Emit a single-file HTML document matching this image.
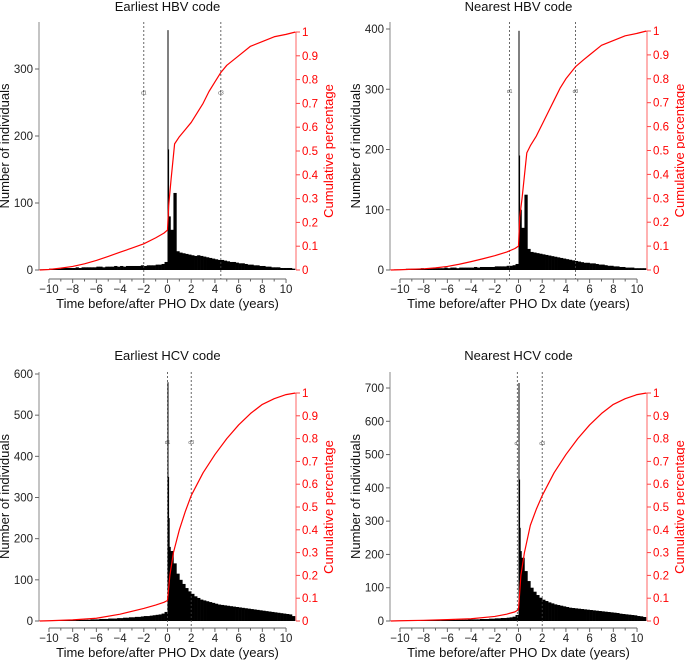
<!DOCTYPE html>
<html><head><meta charset="utf-8"><style>
body{margin:0;background:#fff}
svg{display:block;font-family:"Liberation Sans",Arial,sans-serif}
</style></head><body>
<svg id="chart" width="685" height="661" viewBox="0 0 685 661"></svg>
<script>
// ---- data ----
const panelTitles = ["Earliest HBV code","Nearest HBV code","Earliest HCV code","Nearest HCV code"];
const binStart = -10.75, binWidth = 0.25;
const histTL = [1,1,1,2,2,2,2,3,3,3,3,3,4,3,4,4,4,4,4,5,5,4,5,5,5,6,5,6,5,6,6,6,6,6,7,6,7,7,7,8,8,9,12,
  80,60,115,28,26,25,24,23,22,21,22,21,20,19,18,17,16,15,15,14,13,12,12,11,10,10,9,8,8,7,7,6,6,5,5,4,4,4,3,3,3,3,2];
const histTR = [0,1,1,1,1,2,2,2,2,2,3,2,3,3,3,3,3,3,4,3,4,4,3,4,4,4,4,4,5,4,5,5,5,5,5,6,6,6,6,7,7,8,10,
  100,70,125,35,30,29,28,27,26,25,24,23,22,21,20,19,18,17,16,15,14,13,12,12,11,11,10,9,9,8,7,7,6,6,5,5,4,4,4,3,3,3,3];
const histBL = [1,1,1,1,1,1,2,2,2,2,2,2,3,3,3,3,3,4,4,4,5,5,5,6,6,6,7,7,8,8,9,9,10,10,11,12,12,13,14,15,16,18,22,
  180,170,140,115,100,90,80,72,66,60,56,52,50,48,46,44,42,40,39,38,37,36,35,34,33,32,31,30,29,28,27,26,25,24,23,22,21,20,19,18,17,16,12];
const histBR = [0,0,0,1,1,1,1,1,1,1,2,2,2,2,2,2,2,3,3,3,3,3,4,4,4,4,5,5,5,5,6,6,6,7,7,8,8,9,9,10,11,13,18,
  210,190,150,120,100,88,78,70,64,60,56,53,50,48,46,44,42,40,39,38,37,36,35,34,33,32,31,30,29,28,27,26,25,24,22,21,20,19,18,17,15,14,12];
const spikeXTL = [0,0.05], spikeYTL = [358,180];
const spikeXTR = [0,0.05], spikeYTR = [397,190];
const spikeXBL = [0,0.05,0.1], spikeYBL = [580,350,250];
const spikeXBR = [0,0.05,0.1], spikeYBR = [715,425,280];
const cumXTL = [-10.8,-10,-9,-8,-7,-6,-5,-4,-3,-2,-1,-0.3,0,0.1,0.3,0.6,1,1.5,2,2.5,3,3.5,4,4.5,5,5.5,6,7,8,9,10,10.8];
const cumYTL = [0,0.002,0.008,0.015,0.026,0.04,0.057,0.075,0.092,0.11,0.135,0.155,0.168,0.27,0.38,0.53,0.56,0.59,0.62,0.66,0.7,0.75,0.79,0.83,0.86,0.88,0.9,0.94,0.96,0.98,0.99,1];
const cumXTR = [-10.8,-10,-9,-8,-7,-6,-5,-4,-3,-2,-1,-0.3,0,0.1,0.3,0.7,1,1.5,2,2.5,3,3.5,4,4.8,5.5,6,7,8,9,10,10.8];
const cumYTR = [0,0.001,0.003,0.005,0.009,0.015,0.024,0.035,0.047,0.06,0.075,0.09,0.1,0.22,0.3,0.49,0.52,0.56,0.61,0.66,0.71,0.76,0.8,0.85,0.88,0.9,0.94,0.96,0.98,0.99,1];
const cumXBL = [-10.8,-10,-8,-6,-4,-2,-1,-0.3,0,0.2,0.5,1,1.5,2,2.5,3,4,5,6,7,8,9,10,10.8];
const cumYBL = [0,0.001,0.005,0.012,0.03,0.055,0.07,0.082,0.09,0.2,0.3,0.4,0.48,0.55,0.6,0.65,0.73,0.8,0.86,0.91,0.95,0.975,0.993,1];
const cumXBR = [-10.8,-10,-8,-6,-4,-2,-1,-0.3,0,0.2,0.5,1,1.5,2,2.5,3,4,5,6,7,8,9,10,10.8];
const cumYBR = [0,0.001,0.003,0.006,0.01,0.02,0.03,0.04,0.05,0.2,0.3,0.42,0.49,0.55,0.6,0.65,0.73,0.8,0.86,0.91,0.95,0.975,0.993,1];
const vlinesTL = [-2,4.5], vlinesTR = [-0.75,4.8], vlinesBL = [0,2], vlinesBR = [-0.1,2];
const vlabels = ["d1","d3"];
const yTicksTL = [0,100,200,300], yTicksTR = [0,100,200,300,400];
const yTicksBL = [0,100,200,300,400,500,600], yTicksBR = [0,100,200,300,400,500,600,700];
const cumTicks = [0,0.1,0.2,0.3,0.4,0.5,0.6,0.7,0.8,0.9,1];
const cumTickLabels = ["0","0.1","0.2","0.3","0.4","0.5","0.6","0.7","0.8","0.9","1"];
const xTicks = [-10,-8,-6,-4,-2,0,2,4,6,8,10];
const xTickLabels = ["\u221210","\u22128","\u22126","\u22124","\u22122","0","2","4","6","8","10"];
const xMinor = [-9,-7,-5,-3,-1,1,3,5,7,9];
const vlabelCount = [265,297,435,535];

const svg = document.getElementById('chart');
const NS = 'http://www.w3.org/2000/svg';
function mk(tag, attrs, parent){const e=document.createElementNS(NS,tag);for(const k in attrs)e.setAttribute(k,attrs[k]);(parent||svg).appendChild(e);return e;}

function panel(p){
  const g = mk('g',{});
  
  
  const L=p.left, R=p.left+257, y0=p.y0, top=p.top;
  const x = v => L + (v+10.84)/21.68*(R-L);
  const y = v => y0 - v*p.scale;
  const yc = v => y0 - v*(y0-p.cum1);
  const t = mk('text',{x:(L+R)/2,y:p.titleY,'text-anchor':'middle','font-size':13,fill:'#111'},g);
  t.textContent=p.title;  
  const hg = mk('g',{fill:'#000'},g);
   
  p.hist.forEach((v,i)=>{
    const x1=x(binStart+i*binWidth), x2=x(binStart+(i+1)*binWidth);
    const r=mk('rect',{x:x1,y:y(v),width:x2-x1+0.3,height:Math.max(0,y0-y(v))},hg);
     
  });
  p.spikeX.forEach((sx,i)=>{
    const x1=x(sx), x2=x(sx+0.05);
    const r=mk('rect',{x:x1,y:y(p.spikeY[i]),width:Math.max(1,x2-x1),height:y0-y(p.spikeY[i])},hg);
     
  });
  p.vlines.forEach((v,i)=>{
    const l=mk('line',{x1:x(v),x2:x(v),y1:top,y2:p.xAxisY,stroke:'#444','stroke-width':0.8,'stroke-dasharray':'2,2'},g);
     
    const tt=mk('text',{x:x(v),y:y(p.vlabelCount)+2,'text-anchor':'middle','font-size':5,fill:'#555'},g);
    tt.textContent=vlabels[i];  
  });
  const pts=p.cumX.map((cx,i)=>x(cx)+','+yc(p.cumY[i])).join(' ');
  const pl=mk('polyline',{points:pts,fill:'none',stroke:'#f00','stroke-width':1.2,'stroke-linejoin':'round'},g);
   
  const la=mk('line',{x1:L,x2:L,y1:top,y2:y0,stroke:'#888','stroke-width':1},g);
   
  p.yTicks.forEach(v=>{
    mk('line',{x1:L-4,x2:L,y1:y(v),y2:y(v),stroke:'#666'},g);
    const tt=mk('text',{x:L-6,y:y(v)+4,'text-anchor':'end','font-size':11.5,fill:'#222'},g);
    tt.textContent=v;  
  });
  const yt=mk('text',{transform:`translate(${L-30},${(top+y0)/2}) rotate(-90)`,'text-anchor':'middle','font-size':13,fill:'#111'},g);
  yt.textContent='Number of individuals';  
  const ra=mk('line',{x1:R,x2:R,y1:yc(1),y2:y0,stroke:'#f66','stroke-width':1},g);
   
  cumTicks.forEach((v,i)=>{
    mk('line',{x1:R,x2:R+4,y1:yc(v),y2:yc(v),stroke:'#f44'},g);
    const tt=mk('text',{x:R+6,y:yc(v)+4,'font-size':11.5,fill:'#f00'},g);
    tt.textContent=cumTickLabels[i];  
  });
  const rt=mk('text',{transform:`translate(${R+37},${(p.cum1+y0)/2}) rotate(-90)`,'text-anchor':'middle','font-size':13,fill:'#f00'},g);
  rt.textContent='Cumulative percentage';  
  const xa=mk('line',{x1:x(-10),x2:x(10),y1:p.xAxisY,y2:p.xAxisY,stroke:'#666'},g);
   
  xTicks.forEach((v,i)=>{
    mk('line',{x1:x(v),x2:x(v),y1:p.xAxisY,y2:p.xAxisY+4,stroke:'#666'},g);
    const tt=mk('text',{x:x(v),y:p.xAxisY+14,'text-anchor':'middle','font-size':11.5,fill:'#222'},g);
    tt.textContent=xTickLabels[i];  
  });
  xMinor.forEach(v=>mk('line',{x1:x(v),x2:x(v),y1:p.xAxisY,y2:p.xAxisY+2.5,stroke:'#666'},g));
  const xt=mk('text',{x:(x(-10)+x(10))/2,y:p.xAxisY+29,'text-anchor':'middle','font-size':13,fill:'#111'},g);
  xt.textContent='Time before/after PHO Dx date (years)';  
}

panel({name:'panel-earliest-hbv',title:panelTitles[0],left:39,y0:270,top:22,scale:201/300,cum1:32,xAxisY:279,titleY:11,
  hist:histTL,spikeX:spikeXTL,spikeY:spikeYTL,cumX:cumXTL,cumY:cumYTL,vlines:vlinesTL,yTicks:yTicksTL,vlabelCount:vlabelCount[0]});
panel({name:'panel-nearest-hbv',title:panelTitles[1],left:390,y0:270,top:22,scale:241/400,cum1:31,xAxisY:279,titleY:11,
  hist:histTR,spikeX:spikeXTR,spikeY:spikeYTR,cumX:cumXTR,cumY:cumYTR,vlines:vlinesTR,yTicks:yTicksTR,vlabelCount:vlabelCount[1]});
panel({name:'panel-earliest-hcv',title:panelTitles[2],left:39,y0:621,top:372,scale:247/600,cum1:393,xAxisY:628,titleY:360,
  hist:histBL,spikeX:spikeXBL,spikeY:spikeYBL,cumX:cumXBL,cumY:cumYBL,vlines:vlinesBL,yTicks:yTicksBL,vlabelCount:vlabelCount[2]});
panel({name:'panel-nearest-hcv',title:panelTitles[3],left:390,y0:621,top:372,scale:233/700,cum1:393,xAxisY:628,titleY:360,
  hist:histBR,spikeX:spikeXBR,spikeY:spikeYBR,cumX:cumXBR,cumY:cumYBR,vlines:vlinesBR,yTicks:yTicksBR,vlabelCount:vlabelCount[3]});
</script>
</body></html>
